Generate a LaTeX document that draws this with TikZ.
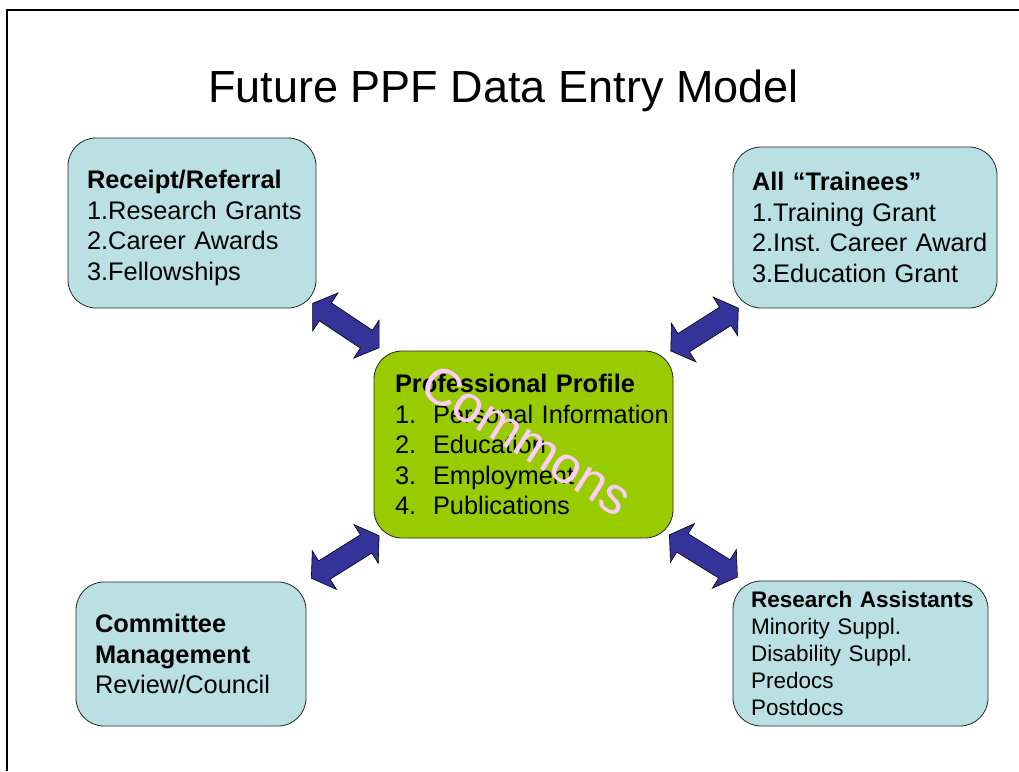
\documentclass[tikz,border=0pt]{standalone}
\usepackage{fontspec}
\setmainfont{Liberation Sans}
\usepackage{xcolor}
\usetikzlibrary{shapes.arrows}
\definecolor{boxcyan}{RGB}{187,224,227}
\definecolor{profgreen}{RGB}{153,204,0}
\definecolor{arrblue}{RGB}{51,51,153}
\definecolor{wmpink}{RGB}{255,204,255}
\newcommand{\boxfont}{\fontsize{25.4}{30.5}\selectfont}
\newcommand{\smallboxfont}{\fontsize{22.5}{27}\selectfont}
\newcommand{\itm}[1]{\makebox[38pt][l]{#1}}
\hyphenpenalty=10000
\exhyphenpenalty=10000

\begin{document}
\begin{tikzpicture}[x=1pt,y=-1pt,
    box/.style={draw=black!85, line width=0.8pt, rounded corners=28pt, fill=boxcyan, align=left,
                inner xsep=19pt, inner ysep=0pt, font=\boxfont},
    dblarr/.style={double arrow, draw=black, line width=0.6pt, fill=arrblue, inner xsep=0pt, inner ysep=10.5pt,
                   double arrow head extend=12pt, double arrow tip angle=112, minimum height=80pt}]
  \useasboundingbox (0,0) rectangle (1019,771);
  \draw[line width=2pt] (7,771) -- (7,10) -- (1019,10);
  \node[anchor=base, font=\fontsize{45}{54}\selectfont] (title) at (503.5,102) {Future PPF Data Entry Model};
  % ---- outer boxes ----
  \node[box, text width=210pt, minimum height=170pt] (rr) at (192,223)
    {\rule{0pt}{28pt}\textbf{Receipt/Referral}\\ 1.Research~Grants\\ 2.Career~Awards\\ 3.Fellowships};
  \node[box, text width=226pt, minimum height=161pt] (tr) at (865,227.5)
    {\textbf{All~“Trainees”}\\ 1.Training~Grant\\ 2.Inst.~Career~Award\\ 3.Education~Grant};
  \node[box, text width=192pt, minimum height=144pt] (cm) at (191,654)
    {\textbf{Committee}\\ \textbf{Management}\\ Review/Council};
  \node[box, font=\smallboxfont, inner xsep=18pt, text width=219pt, minimum height=145pt] (ra) at (860.5,653.5)
    {\textbf{Research~Assistants}\\ Minority~Suppl.\\ Disability~Suppl.\\ Predocs\\ Postdocs};
  % ---- centre ----
  \node[box, fill=profgreen, inner xsep=21pt, text width=257pt, minimum height=187pt] (prof) at (523.5,444.5)
    {\textbf{Professional~Profile}\\ \itm{1.}Personal~Information\\ \itm{2.}Education\\ \itm{3.}Employment\\ \itm{4.}Publications};
  \node[rotate=-32, text=wmpink, font=\fontsize{52}{60}\selectfont] (wm) at (527,440) {Commons};
  % ---- block arrows ----
  \path (rr) -- (prof) node[dblarr, pos=0.44, sloped] (a1) {};
  \path (tr) -- (prof) node[dblarr, midway, sloped] (a2) {};
  \path (cm) -- (prof) node[dblarr, pos=0.57, sloped] (a3) {};
  \path (prof) -- (ra) node[dblarr, pos=0.43, sloped] (a4) {};
\end{tikzpicture}
\end{document}
